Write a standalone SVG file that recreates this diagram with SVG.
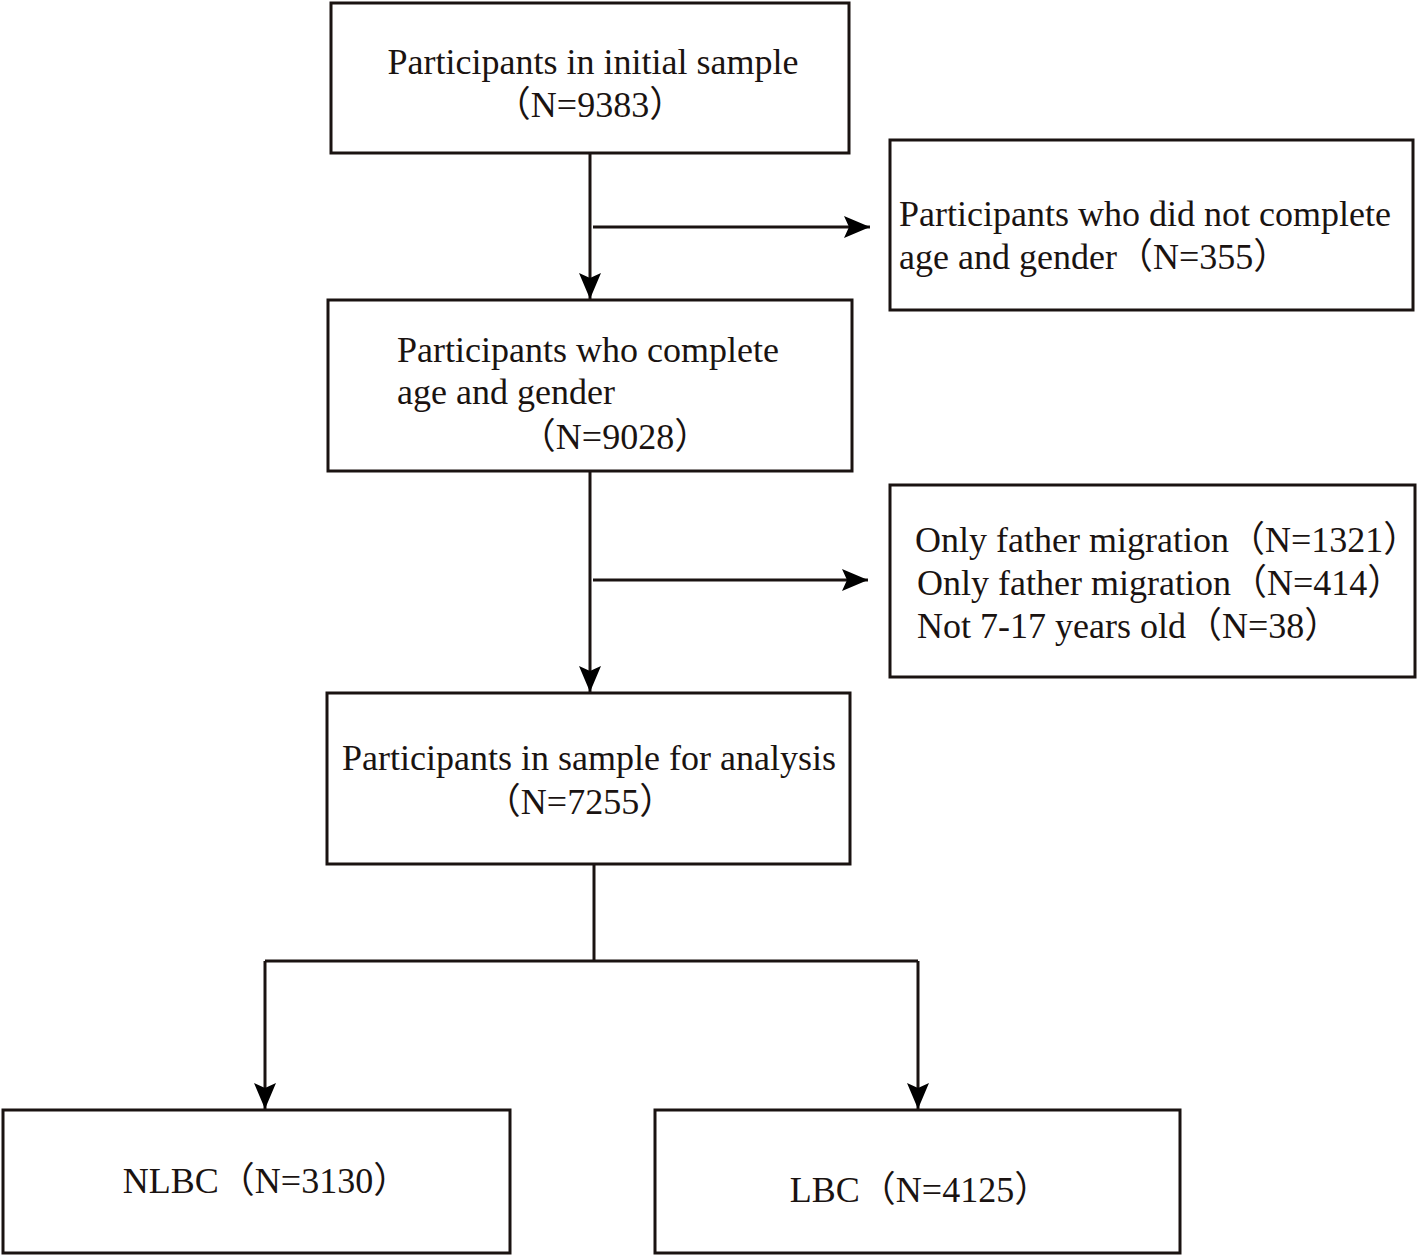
<svg xmlns="http://www.w3.org/2000/svg" width="1418" height="1258" viewBox="0 0 1418 1258">
<style>
.box{fill:#fff;stroke:#1a1311;stroke-width:3}
.ln{fill:none;stroke:#1a1311;stroke-width:3}
text{font-family:"Liberation Serif","Noto Sans CJK SC",serif;font-size:36px;fill:#1a1311}
.c{text-anchor:middle}
</style>
<defs>
<marker id="ah" markerUnits="userSpaceOnUse" markerWidth="28" markerHeight="24" refX="26" refY="11" orient="auto">
<path d="M0,0 L26,11 L0,22 L5,11 Z" fill="#000"/>
</marker>
</defs>
<rect width="1418" height="1258" fill="#fff"/>
<g id="connectors">
<line class="ln" x1="590" y1="153" x2="590" y2="299" marker-end="url(#ah)"/>
<line class="ln" x1="593" y1="227" x2="870" y2="227" marker-end="url(#ah)"/>
<line class="ln" x1="590" y1="471" x2="590" y2="692" marker-end="url(#ah)"/>
<line class="ln" x1="593" y1="580" x2="868" y2="580" marker-end="url(#ah)"/>
<polyline class="ln" points="594,864 594,961"/>
<polyline class="ln" points="265,961 918,961"/>
<line class="ln" x1="265" y1="961" x2="265" y2="1109" marker-end="url(#ah)"/>
<line class="ln" x1="918" y1="961" x2="918" y2="1109" marker-end="url(#ah)"/>
</g>
<g id="n1">
<rect class="box" x="331" y="3" width="518" height="150"/>
<text class="c" x="593" y="74">Participants in initial sample</text>
<text class="c" x="590" y="117">（N=9383）</text>
</g>
<g id="n2">
<rect class="box" x="890" y="140" width="523" height="170"/>
<text x="899" y="226">Participants who did not complete</text>
<text x="899" y="269">age and gender（N=355）</text>
</g>
<g id="n3">
<rect class="box" x="328" y="300" width="524" height="171"/>
<text x="397" y="362">Participants who complete</text>
<text x="397" y="404">age and gender</text>
<text class="c" x="615" y="449">（N=9028）</text>
</g>
<g id="n4">
<rect class="box" x="890" y="485" width="525" height="192"/>
<text x="915" y="552" font-size="35">Only father migration（N=1321）</text>
<text x="917" y="595">Only father migration（N=414）</text>
<text x="917" y="638">Not 7-17 years old（N=38）</text>
</g>
<g id="n5">
<rect class="box" x="327" y="693" width="523" height="171"/>
<text class="c" x="589" y="770">Participants in sample for analysis</text>
<text class="c" x="580" y="814">（N=7255）</text>
</g>
<g id="n6">
<rect class="box" x="3" y="1110" width="507" height="143"/>
<text class="c" x="266" y="1193">NLBC（N=3130）</text>
</g>
<g id="n7">
<rect class="box" x="655" y="1110" width="525" height="143"/>
<text class="c" x="920" y="1202">LBC（N=4125）</text>
</g>
</svg>
